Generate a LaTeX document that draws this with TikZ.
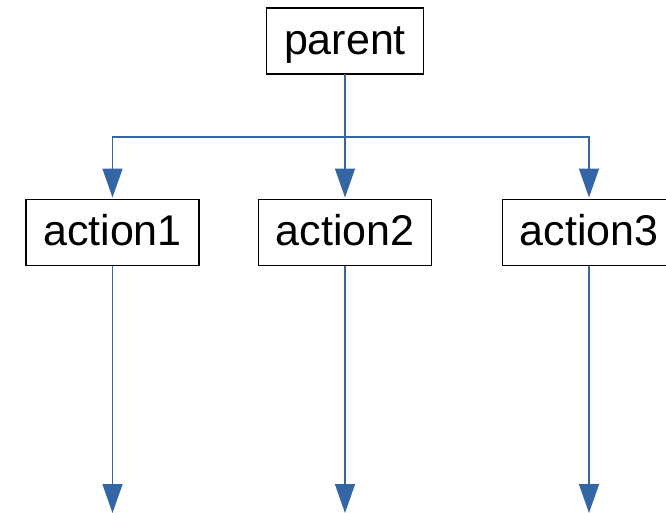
\documentclass[tikz,border=0pt]{standalone}
\usepackage{fontspec}
\setmainfont{Liberation Sans}
\usetikzlibrary{arrows.meta}
\definecolor{flowblue}{HTML}{3465A4}
\begin{document}
\begin{tikzpicture}[x=1pt,y=-1pt,
  box/.style={draw=black, line width=1.2pt, fill=white,
    minimum width=173pt, minimum height=66pt, inner sep=0pt, outer sep=0pt,
    text height=30pt, text depth=4pt, font=\fontsize{43}{50}\selectfont},
  link/.style={draw=flowblue, line width=1.5pt},
  flow/.style={link, -{Triangle[width=20pt,length=29pt]}, shorten >=2pt}]
\useasboundingbox (0,0) rectangle (666,512);

% boxes
\node[box, minimum width=157pt] (parent) at (345,41) {parent};
\node[box] (a1) at (112.5,232.5) {action1};
\node[box] (a2) at (345,232.5) {action2};
\node[box] (a3) at (589,232.5) {action3};

% branching point and loose ends
\coordinate (fork) at (345,137);
\coordinate (e1) at (112.5,513);
\coordinate (e2) at (345,513);
\coordinate (e3) at (589,513);

% connectors from the parent
\draw[link] (parent.south) -- (fork);
\draw[flow] (fork) -| (a1.north);
\draw[flow] (fork) -- (a2.north);
\draw[flow] (fork) -| (a3.north);

% outgoing arrows
\draw[flow, shorten >=0pt] (a1.south) -- (e1);
\draw[flow, shorten >=0pt] (a2.south) -- (e2);
\draw[flow, shorten >=0pt] (a3.south) -- (e3);
\end{tikzpicture}
\end{document}
